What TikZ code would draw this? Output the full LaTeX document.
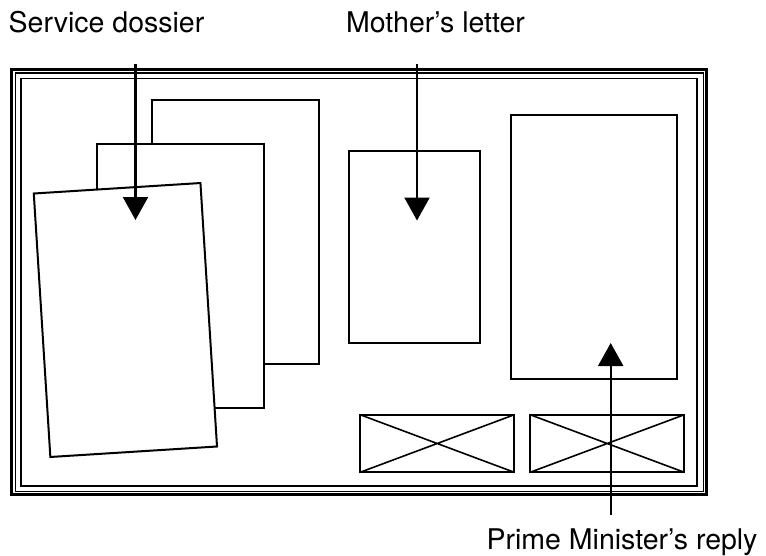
\documentclass[tikz,border=0pt]{standalone}
\usepackage{fontspec}
\setmainfont{TeX Gyre Heros}
\usetikzlibrary{arrows.meta}

\begin{document}
\begin{tikzpicture}[x=1pt,y=-1pt]
\tikzset{every node/.style={font=\fontsize{28.5}{33}\selectfont}}
\tikzset{page/.style={draw,line width=2pt,fill=white,inner sep=0pt,minimum width=167pt,minimum height=264pt}}
\tikzset{slip/.style={draw,line width=2pt,inner sep=0pt,minimum width=154pt,minimum height=57.5pt,
  path picture={\draw[line width=1.6pt] (path picture bounding box.north west) -- (path picture bounding box.south east)
  (path picture bounding box.south west) -- (path picture bounding box.north east);}}}
\tikzset{caption/.style={anchor=base,inner sep=0pt}}
\tikzset{pointer/.style={line width=2.2pt,-{Triangle[width=25pt,length=23pt]}}}

\useasboundingbox (0,0) rectangle (766,555);

% frame
\draw[line width=2.6pt] (11.5,69.5) rectangle (706.5,494.5);
\draw[line width=1.1pt] (15.5,73) rectangle (703.5,491.5);
\draw[line width=1.4pt] (21,78.5) rectangle (697,486);

% papers
\node[page] (back page) at (235.5,231.5) {};
\node[page] (middle page) at (180.6,276.2) {};
\node[page,rotate=3.6] (front page) at (125.4,320) {};
\node[page,minimum width=131pt,minimum height=192pt] (letter) at (414.5,247) {};
\node[page,minimum width=166pt] (reply) at (594,247) {};
\node[slip] (slip a) at (437.2,443.5) {};
\node[slip] (slip b) at (607.2,443.5) {};

\node[caption] (dossier label) at (106.5,32) {Service dossier};
\node[caption] (letter label) at (435.5,32) {Mother’s letter};
\node[caption] (reply label) at (622,549) {Prime Minister’s reply};

\coordinate (dossier start) at (135.5,64);
\coordinate (dossier tip) at (135.5,220);
\coordinate (letter start) at (417,64);
\coordinate (letter tip) at (417,220.5);
\coordinate (reply start) at (610.7,515);
\coordinate (reply tip) at (610.7,343);

\draw[pointer] (dossier start) -- (dossier tip);
\draw[pointer] (letter start) -- (letter tip);
\draw[pointer] (reply start) -- (reply tip);

\end{tikzpicture}
\end{document}
